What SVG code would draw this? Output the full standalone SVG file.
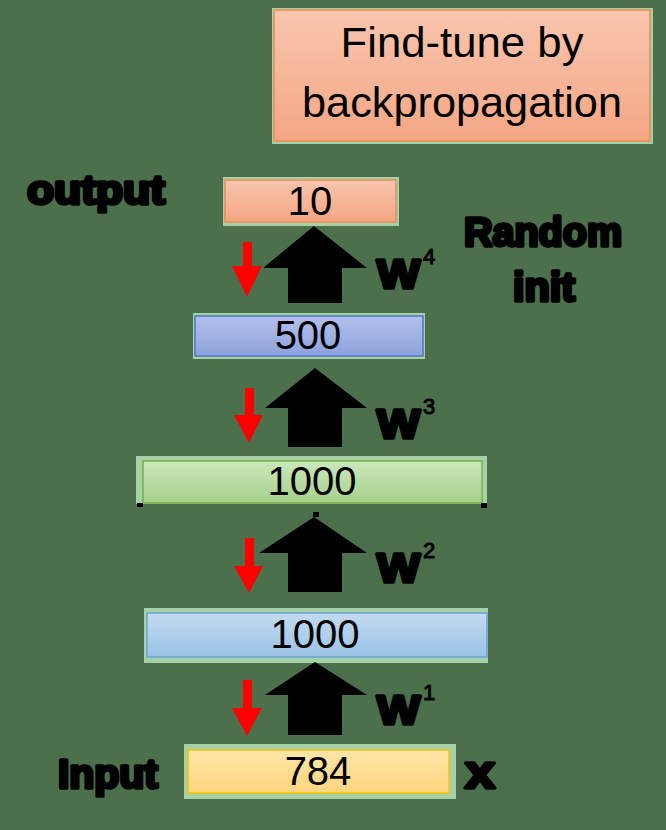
<svg xmlns="http://www.w3.org/2000/svg" width="666" height="830" viewBox="0 0 666 830">
<defs>
<linearGradient id="gSalmon" x1="0" y1="0" x2="0" y2="1"><stop offset="0" stop-color="#f9c6ae"/><stop offset="1" stop-color="#f4a684"/></linearGradient>
<linearGradient id="gLav" x1="0" y1="0" x2="0" y2="1"><stop offset="0" stop-color="#b3c0ec"/><stop offset="1" stop-color="#8ea2dc"/></linearGradient>
<linearGradient id="gGreen" x1="0" y1="0" x2="0" y2="1"><stop offset="0" stop-color="#cbe8bb"/><stop offset="1" stop-color="#a6d08c"/></linearGradient>
<linearGradient id="gBlue" x1="0" y1="0" x2="0" y2="1"><stop offset="0" stop-color="#c3dbf1"/><stop offset="1" stop-color="#9bc2e6"/></linearGradient>
<linearGradient id="gYellow" x1="0" y1="0" x2="0" y2="1"><stop offset="0" stop-color="#ffe6aa"/><stop offset="1" stop-color="#ffd47e"/></linearGradient>
</defs>
<style>
.halo{fill:#a6d0a6}
.num{font-family:"Liberation Sans",Arial,sans-serif;font-size:40px;fill:#000;text-anchor:middle}
.lbl{font-family:"Liberation Sans",Arial,sans-serif;font-weight:bold;font-size:40px;fill:#000;stroke:#000;stroke-width:3.5;stroke-linejoin:round}
.sup{font-family:"Liberation Sans",Arial,sans-serif;font-size:22px;fill:#000;stroke:#000;stroke-width:1}
.red{fill:#ff0000}
.blk{fill:#000}
</style>
<rect x="0" y="0" width="666" height="830" fill="#4b704b"/>

<g id="title">
<rect class="halo" x="272" y="8" width="381" height="136"/>
<rect x="274" y="10" width="376" height="131" fill="url(#gSalmon)" stroke="#ee8a50" stroke-width="1.5"/>
<text class="num" x="462" y="57" style="font-size:42px" textLength="243" lengthAdjust="spacingAndGlyphs">Find-tune by</text>
<text class="num" x="462" y="117" style="font-size:42px" textLength="320" lengthAdjust="spacingAndGlyphs">backpropagation</text>
</g>

<g id="label-output"><text class="lbl" x="27" y="204" textLength="138" lengthAdjust="spacingAndGlyphs">output</text></g>
<g id="label-random"><text class="lbl" x="543" y="246" text-anchor="middle" textLength="158" lengthAdjust="spacingAndGlyphs">Random</text>
<text class="lbl" x="544" y="301" text-anchor="middle" textLength="62" lengthAdjust="spacingAndGlyphs">init</text></g>
<g id="label-input"><text class="lbl" x="58" y="788" textLength="100" lengthAdjust="spacingAndGlyphs">Input</text></g>
<g id="label-x"><text class="lbl" x="465" y="788" style="font-size:46px" textLength="30" lengthAdjust="spacingAndGlyphs">x</text></g>

<g id="node-10">
<rect class="halo" x="223" y="177" width="176" height="49"/>
<rect x="225" y="180" width="171" height="42" fill="url(#gSalmon)" stroke="#ee8a50" stroke-width="1.5"/>
<text class="num" x="310" y="215">10</text>
</g>
<g id="node-500">
<rect class="halo" x="193" y="313" width="232" height="46"/>
<rect x="195" y="316" width="228" height="40" fill="url(#gLav)" stroke="#4f74c8" stroke-width="1.5"/>
<text class="num" x="308" y="349">500</text>
</g>
<g id="node-1000a">
<rect class="halo" x="136" y="456" width="351" height="48"/>
<rect x="143" y="461" width="339" height="42" fill="url(#gGreen)" stroke="#74b04c" stroke-width="1.5"/>
<text class="num" x="312" y="495">1000</text>
<rect class="blk" x="137" y="503" width="6" height="4"/>
<rect class="blk" x="481" y="503" width="6" height="5"/>
<rect class="blk" x="313" y="512" width="6" height="5"/>
</g>
<g id="node-1000b">
<rect class="halo" x="144" y="608" width="344" height="55"/>
<rect x="147" y="613" width="340" height="44" fill="url(#gBlue)" stroke="#6aa2d8" stroke-width="1.5"/>
<text class="num" x="315" y="648">1000</text>
</g>
<g id="node-784">
<rect class="halo" x="184" y="744" width="272" height="55"/>
<rect x="188" y="750" width="261" height="43" fill="url(#gYellow)" stroke="#ffc000" stroke-width="1.5"/>
<text class="num" x="318" y="785">784</text>
</g>

<g id="weights">
<text class="lbl" x="377" y="288" textLength="43" lengthAdjust="spacingAndGlyphs">W</text><text class="sup" x="423" y="264">4</text>
<text class="lbl" x="377" y="438" textLength="43" lengthAdjust="spacingAndGlyphs">W</text><text class="sup" x="423" y="414">3</text>
<text class="lbl" x="377" y="582" textLength="43" lengthAdjust="spacingAndGlyphs">W</text><text class="sup" x="423" y="558">2</text>
<text class="lbl" x="377" y="724" textLength="43" lengthAdjust="spacingAndGlyphs">W</text><text class="sup" x="423" y="700">1</text>
</g>

<g id="connectors">
<polygon class="blk" points="314,226 367,268 342,268 342,303 288,303 288,268 263,268"/>
<polygon class="blk" points="315,368 367,408 342,408 342,447 288,447 288,408 265,408"/>
<polygon class="blk" points="314,517 367,553 342,553 342,592 288,592 288,553 259,553"/>
<polygon class="blk" points="315,662 367,695 342,695 342,735 288,735 288,695 265,695"/>
<polygon class="red" points="243,242 252,242 252,266 262,266 247,297 232,266 243,266"/>
<polygon class="red" points="245,388 254,388 254,415 263,415 249,443 234,415 245,415"/>
<polygon class="red" points="245,538 254,538 254,566 263,566 249,593 234,566 245,566"/>
<polygon class="red" points="243,680 252,680 252,708 262,708 247,736 232,708 243,708"/>
</g>
</svg>
